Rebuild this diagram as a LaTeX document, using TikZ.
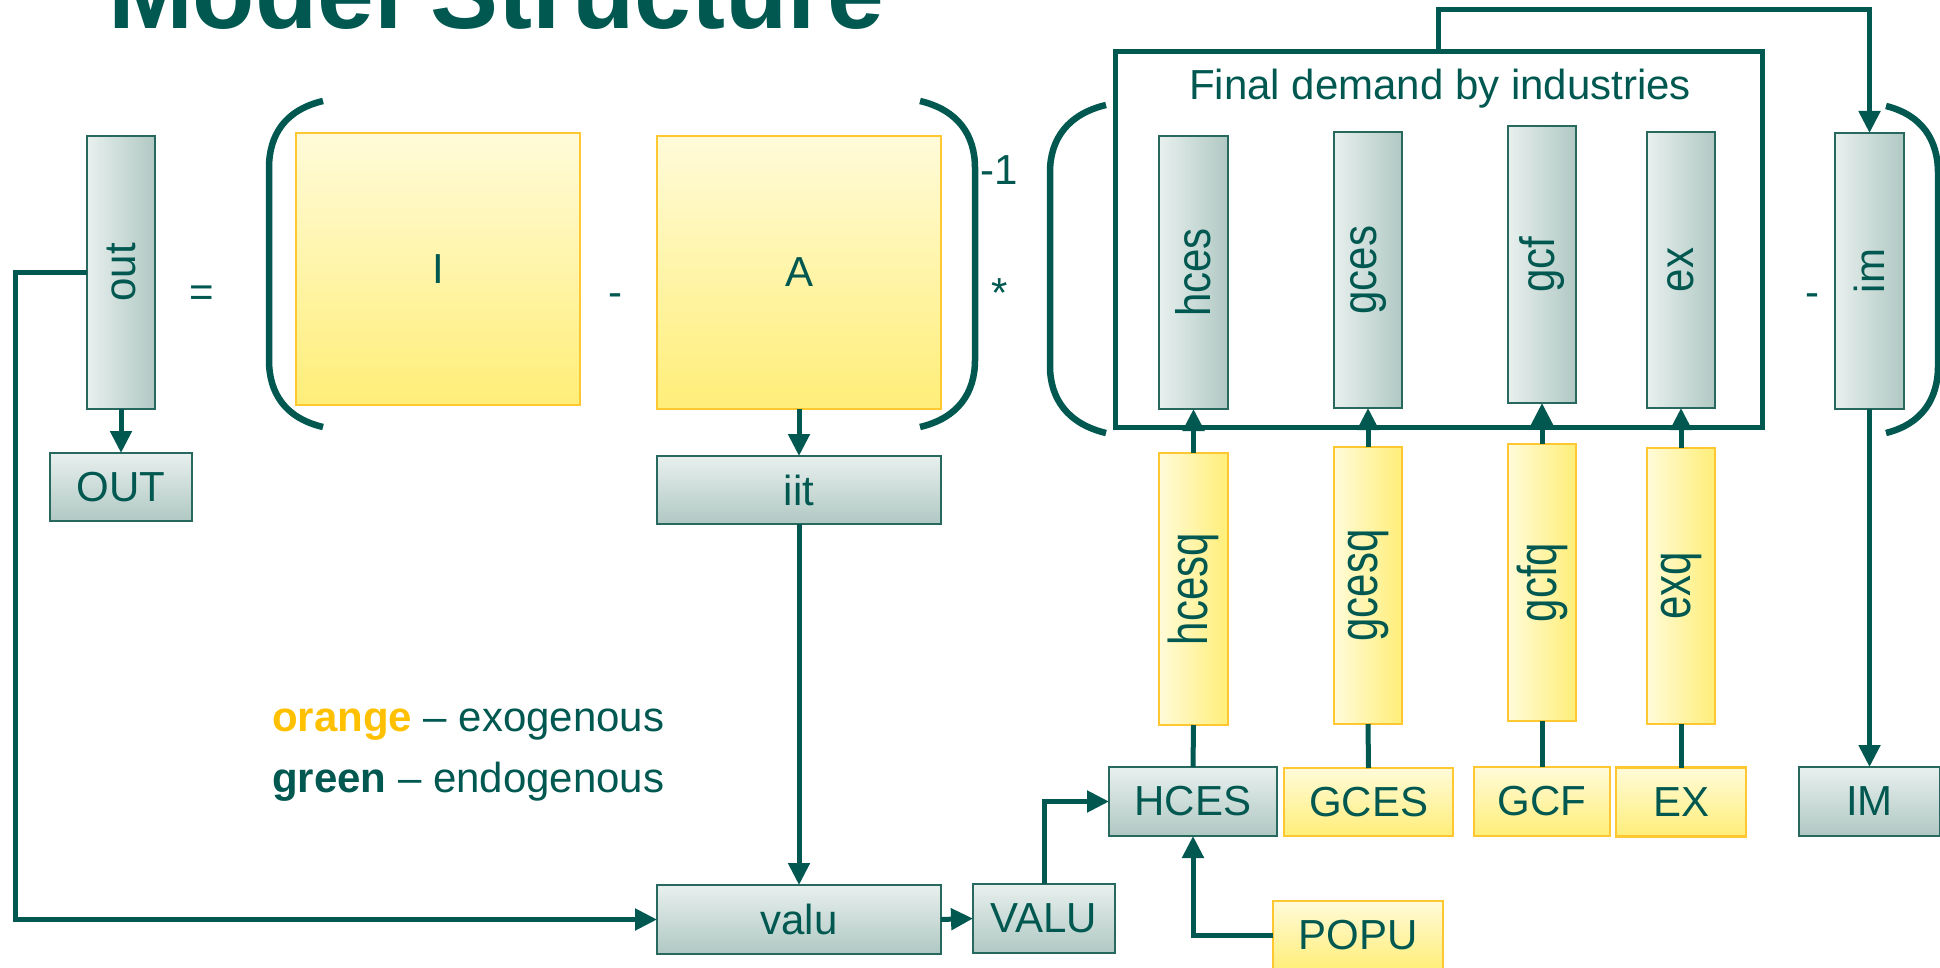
\documentclass[tikz,border=0pt]{standalone}
\usepackage{fontspec}
\setmainfont{Liberation Sans}
\usepackage{graphicx}
\usetikzlibrary{arrows.meta}
\definecolor{dg}{RGB}{0,88,80}
\definecolor{gbd}{RGB}{40,105,95}
\definecolor{gl}{RGB}{232,240,238}
\definecolor{gd}{RGB}{176,200,195}
\definecolor{yl}{RGB}{255,251,217}
\definecolor{yd}{RGB}{255,238,120}
\definecolor{yb}{RGB}{255,200,50}
\definecolor{og}{RGB}{255,192,0}
\newcommand{\myfont}{\fontsize{42}{50}\selectfont}
\newcommand{\vtxt}[2]{\rotatebox{90}{\scalebox{1}[#1]{#2}}}
\begin{document}
\begin{tikzpicture}[x=1pt,y=-1pt,
  every node/.style={inner sep=0pt, outer sep=0pt, text=dg, font=\myfont},
  gwide/.style={draw=gbd, line width=2pt, top color=gl, bottom color=gd},
  gtall/.style={draw=gbd, line width=2pt, left color=gl, right color=gd},
  ywide/.style={draw=yb, line width=2.5pt, top color=yl, bottom color=yd},
  ytall/.style={draw=yb, line width=2.5pt, left color=yl, right color=yd},
  conn/.style={draw=dg, line width=5pt},
  arr/.style={conn, -{Triangle[length=22pt,width=21pt]}},
  paren/.style={draw=dg, line width=6.5pt},
]
\useasboundingbox (0,0) rectangle (1940,968);

% title
\node[anchor=base west, font=\fontsize{102}{120}\selectfont\bfseries] (title) at (108,29) {Model Structure};

% left part
\node[gtall, minimum width=68pt, minimum height=273pt] (out) at (121,272.5) {\vtxt{1.05}{out}};
\node[gwide, minimum width=142pt, minimum height=68pt] (OUT) at (121,487) {OUT};
\node[anchor=base] (eq) at (202,306) {=};
\node[ywide, minimum width=284pt, minimum height=272pt] (I) at (438,269) {I};
\node[anchor=base] (minus1) at (615,306) {-};
\node[ywide, minimum width=284pt, minimum height=273pt] (A) at (799,272.5) {A};
\node[gwide, minimum width=284pt, minimum height=68pt] (iit) at (799,490) {iit};
\node[gwide, minimum width=284pt, minimum height=69pt] (valu) at (799,919.5) {valu};
\node[gwide, minimum width=142pt, minimum height=69pt] (VALU) at (1044,918.5) {VALU};
\node[anchor=base] (inv) at (999,185) {-1};
\node[anchor=base] (times) at (1000,307) {*};

% parentheses
\draw[paren] (323,101) .. controls (285,110) and (269,135) .. (269,168) -- (269,360) .. controls (269,393) and (285,418) .. (323,427);
\draw[paren] (920,101) .. controls (958,110) and (975,135) .. (975,168) -- (975,360) .. controls (975,393) and (958,418) .. (920,427);
\draw[paren] (1106,105) .. controls (1068,114) and (1050,139) .. (1050,172) -- (1050,366) .. controls (1050,399) and (1068,424) .. (1106,433);
\draw[paren] (1886,106) .. controls (1922,115) and (1938,140) .. (1938,173) -- (1938,366) .. controls (1938,399) and (1922,424) .. (1886,433);

% final demand box
\node[draw=dg, line width=5pt, minimum width=647pt, minimum height=375pt] (fd) at (1438.5,239.5) {};
\node[anchor=base] (fdlabel) at (1440,100) {Final demand by industries};
\node[gtall, minimum width=69pt, minimum height=273pt] (hces) at (1193.5,272.5) {\vtxt{1.15}{hces}};
\node[gtall, minimum width=68pt, minimum height=276pt] (gces) at (1368,270) {\vtxt{1.15}{gces}};
\node[gtall, minimum width=68pt, minimum height=277pt] (gcf) at (1542,264.5) {\vtxt{1.15}{gcf}};
\node[gtall, minimum width=68pt, minimum height=276pt] (ex) at (1681,270) {\vtxt{1.15}{ex}};
\node[anchor=base] (minus2) at (1812,306) {-};
\node[gtall, minimum width=69pt, minimum height=276pt] (im) at (1869.5,271) {\vtxt{1}{im}};

% exogenous quantities
\node[ytall, minimum width=69pt, minimum height=272pt] (hcesq) at (1193.5,589) {\vtxt{1.3}{hcesq}};
\node[ytall, minimum width=68pt, minimum height=277pt] (gcesq) at (1368,585.5) {\vtxt{1.3}{gcesq}};
\node[ytall, minimum width=68pt, minimum height=277pt] (gcfq) at (1542,582.5) {\vtxt{1.3}{gcfq}};
\node[ytall, minimum width=68pt, minimum height=276pt] (exq) at (1681,586) {\vtxt{1.3}{exq}};

% bottom row
\node[gwide, minimum width=168pt, minimum height=69pt] (HCES) at (1193,801.5) {HCES};
\node[ywide, minimum width=169pt, minimum height=68pt] (GCES) at (1368.5,802) {GCES};
\node[ywide, minimum width=136pt, minimum height=69pt] (GCF) at (1542,801.5) {GCF};
\node[ywide, minimum width=130pt, minimum height=69pt] (EX) at (1681,802) {EX};
\node[gwide, minimum width=141pt, minimum height=69pt] (IM) at (1869.5,801.5) {IM};
\node[ywide, minimum width=170pt, minimum height=69pt] (POPU) at (1358,935.5) {POPU};

% legend
\node[anchor=base west] (leg1) at (272,731) {\textcolor{og}{\textbf{orange}} – exogenous};
\node[anchor=base west] (leg2) at (272,792) {\textbf{green} – endogenous};

% connectors
\draw[arr] (out.south) -- (OUT.north);
\draw[arr] (A.south) -- (iit.north);
\draw[arr] (iit.south) -- (valu.north);
\draw[arr] (out.west) -- ++(-72,0) |- (valu.west);
\draw[arr] (valu.east) -- (VALU.west);
\draw[arr] (VALU.north) |- (HCES.west);
\draw[arr] (POPU.west) -| (HCES.south);
\draw[arr] (hcesq.north) -- (hces.south);
\draw[arr] (gcesq.north) -- (gces.south);
\draw[arr] (gcfq.north) -- (gcf.south);
\draw[arr] (exq.north) -- (ex.south);
\draw[conn] (hcesq.south) -- (HCES.north);
\draw[conn] (gcesq.south) -- (GCES.north);
\draw[conn] (gcfq.south) -- (GCF.north);
\draw[conn] (exq.south) -- (EX.north);
\draw[arr] (fd.north) -- ++(0,-42) -| (im.north);
\draw[arr] (im.south) -- (IM.north);
\end{tikzpicture}
\end{document}
